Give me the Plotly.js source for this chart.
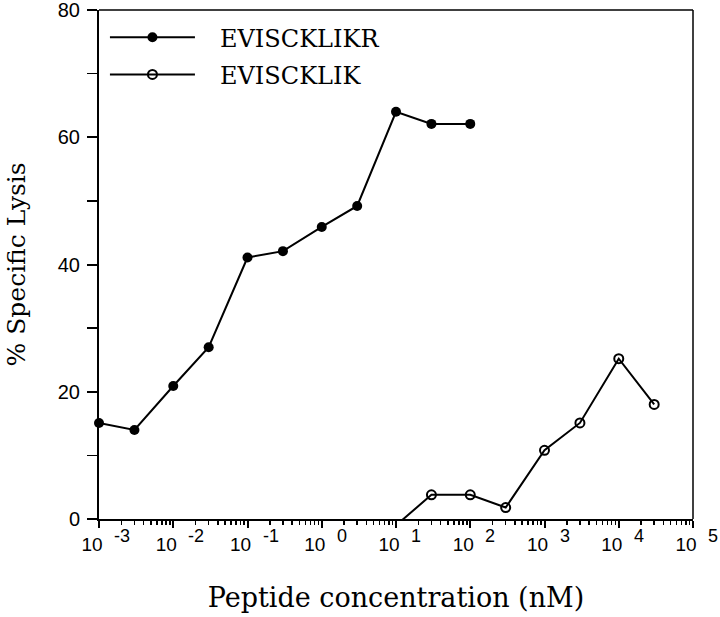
<!DOCTYPE html>
<html>
<head>
<meta charset="utf-8">
<script src="https://cdn.plot.ly/plotly-3.0.1.min.js"></script>
<style>html,body{margin:0;padding:0;background:#fff;}#chart{width:720px;height:617px;}</style>
</head>
<body>
<div id="chart"></div>
<script>
// Data
const concKR = [0.001, 0.003, 0.01, 0.03, 0.1, 0.3, 1, 3, 10, 30, 100];
const lysisKR = [15.1, 14.0, 20.9, 27.0, 41.1, 42.1, 45.9, 49.2, 64.0, 62.1, 62.1];
const concK = [10, 30, 100, 300, 1000, 3000, 10000, 30000];
const lysisK = [-1, 3.8, 3.8, 1.8, 10.8, 15.1, 25.2, 18.0];
const nameKR = "EVISCKLIKR";
const nameK = "EVISCKLIK";
const xTickVals = [1e-3, 1e-2, 1e-1, 1e0, 1e1, 1e2, 1e3, 1e4, 1e5];
const xTickBase = ["10", "10", "10", "10", "10", "10", "10", "10", "10"];
const xTickExp = ["-3", "-2", "-1", "0", "1", "2", "3", "4", "5"];
const yTickVals = [0, 20, 40, 60, 80];
const xTitle = "Peptide concentration (nM)";
const yTitle = "% Specific Lysis";

const serif = "DejaVu Serif, Liberation Serif, serif";
const sans = "Liberation Sans, Arial, sans-serif";
const gap = "&nbsp;&nbsp;&#8201;";

const traces = [
  {
    x: concKR, y: lysisKR, name: gap + nameKR, type: "scatter", mode: "lines+markers",
    legendgroup: "a",
    line: {color: "#000", width: 2},
    marker: {symbol: "circle", size: 10, color: "#000"},
    cliponaxis: false
  },
  {
    x: concK, y: lysisK, name: gap + nameK, type: "scatter", mode: "lines+markers",
    legendgroup: "b",
    line: {color: "#000", width: 2},
    marker: {symbol: "circle-open", size: 9, color: "#000", line: {width: 2, color: "#000"}},
    cliponaxis: true
  }
];

// exponent labels of the x tick labels, placed at the tick values
const expAnnotations = xTickVals.map((v, i) => ({
  xref: "x", yref: "paper", x: Math.log10(v), y: 0,
  xanchor: "left", yanchor: "top", xshift: 13, yshift: -5,
  text: xTickExp[i], showarrow: false,
  font: {family: sans, size: 18, color: "#000"}
}));

const layout = {
  width: 720, height: 617,
  margin: {l: 99, r: 27, t: 10, b: 98},
  paper_bgcolor: "#fff", plot_bgcolor: "#fff",
  showlegend: true,
  legend: {
    x: 0.01, y: 0.99, xanchor: "left", yanchor: "top",
    bgcolor: "rgba(0,0,0,0)", borderwidth: 0,
    font: {family: serif, size: 24, color: "#000"},
    itemwidth: 85, tracegroupgap: 3
  },
  xaxis: {
    type: "log", range: [-3, 5],
    showgrid: false, zeroline: false,
    showline: true, linecolor: "#000", linewidth: 2,
    ticks: "outside", ticklen: 7, tickwidth: 2, tickcolor: "#000",
    tickvals: xTickVals,
    ticktext: xTickBase,
    ticklabelshift: -7,
    ticklabelstandoff: 0,
    ticklabeloverflow: "allow",
    tickfont: {family: sans, size: 19, color: "#000"},
    minor: {dtick: "D1", ticks: "outside", ticklen: 4, tickwidth: 1.5, tickcolor: "#000", showgrid: false},
    title: {text: xTitle, font: {family: serif, size: 27, color: "#000"}, standoff: 34}
  },
  yaxis: {
    range: [0, 80],
    showgrid: false, zeroline: false,
    showline: true, linecolor: "#000", linewidth: 2,
    ticks: "outside", ticklen: 10, tickwidth: 2, tickcolor: "#000",
    tickvals: yTickVals,
    ticklabelstandoff: 3,
    ticklabeloverflow: "allow",
    tickfont: {family: sans, size: 20, color: "#000"},
    minor: {dtick: 10, ticks: "outside", ticklen: 10, tickwidth: 1.5, tickcolor: "#000", showgrid: false}
  },
  annotations: expAnnotations.concat([{
    xref: "paper", yref: "paper", x: 0, y: 0.5, xanchor: "center", yanchor: "middle",
    xshift: -83, textangle: -90, showarrow: false,
    text: yTitle, font: {family: serif, size: 25, color: "#000"}
  }]),
  shapes: [
    {type: "line", xref: "paper", yref: "paper", x0: 0, x1: 1, y0: 1, y1: 1, line: {color: "#000", width: 1.5}},
    {type: "line", xref: "paper", yref: "paper", x0: 1, x1: 1, y0: 0, y1: 1, line: {color: "#000", width: 1.5}}
  ]
};

Plotly.newPlot("chart", traces, layout, {displayModeBar: false, staticPlot: true});
</script>
</body>
</html>
